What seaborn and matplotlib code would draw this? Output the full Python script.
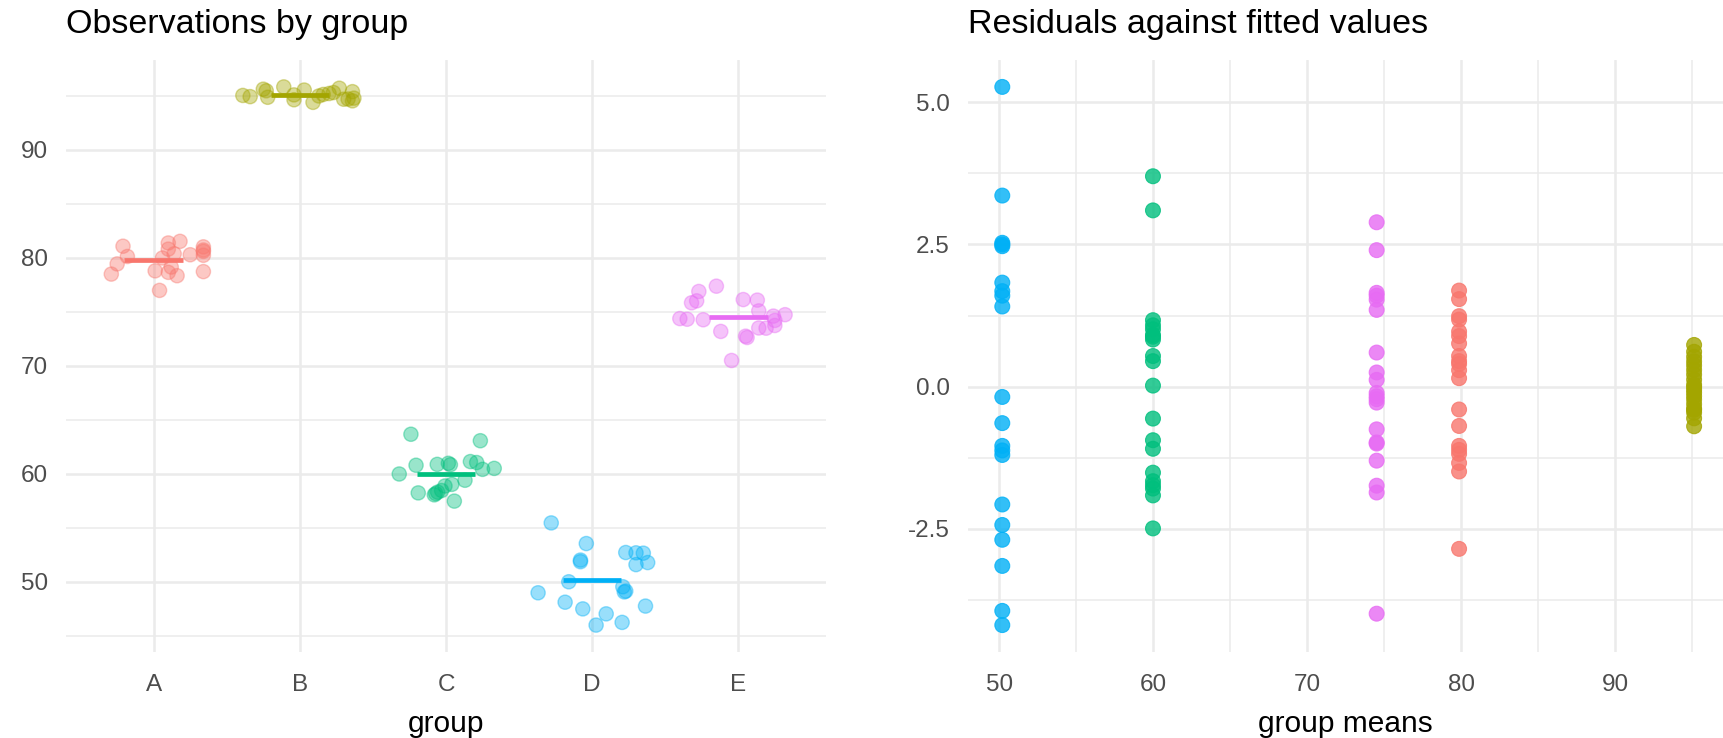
import numpy as np
import pandas as pd
import matplotlib
matplotlib.use("Agg")
import matplotlib.pyplot as plt
import seaborn as sns
from matplotlib.ticker import FixedLocator

# ---------------- data ----------------
groups = ["A", "B", "C", "D", "E"]
colors = ["#F8766D", "#A3A500", "#00BF7D", "#00B0F6", "#E76BF3"]

values_A = [81.54, 81.39, 81.09, 81.03, 80.82, 80.74, 80.61, 80.39, 80.30, 80.25,
            80.14, 80.00, 79.45, 79.16, 78.81, 78.74, 78.67, 78.51, 78.36, 77.00]
jitter_A = [0.18, 0.10, -0.21, 0.34, 0.10, 0.34, 0.34, 0.14, 0.25, 0.34,
            -0.18, 0.06, -0.25, 0.12, 0.01, 0.34, 0.10, -0.29, 0.16, 0.04]

values_B = [95.84, 95.72, 95.63, 95.55, 95.48, 95.40, 95.32, 95.23, 95.14, 95.10,
            95.05, 95.00, 94.94, 94.88, 94.80, 94.72, 94.70, 94.65, 94.55, 94.41]
jitter_B = [-0.11, 0.27, -0.25, 0.03, -0.23, 0.36, 0.23, 0.20, 0.16, -0.04,
            -0.39, 0.13, -0.34, -0.22, 0.37, 0.33, 0.30, -0.04, 0.36, 0.09]

values_C = [63.68, 63.08, 61.15, 61.06, 60.99, 60.89, 60.86, 60.81, 60.52, 60.43,
            60.00, 59.42, 59.04, 58.89, 58.47, 58.32, 58.25, 58.19, 58.07, 57.49]
jitter_C = [-0.24, 0.235, 0.167, 0.21, 0.016, -0.06, 0.03, -0.205, 0.33, 0.25,
            -0.32, 0.13, 0.04, -0.007, -0.03, -0.057, -0.19, -0.07, -0.08, 0.057]

values_D = [55.47, 53.56, 52.73, 52.70, 52.67, 52.03, 51.88, 51.80, 51.61, 50.02,
            49.56, 49.16, 49.08, 49.00, 48.13, 47.77, 47.51, 47.05, 46.26, 46.01]
jitter_D = [-0.28, -0.04, 0.23, 0.30, 0.35, -0.08, -0.08, 0.38, 0.30, -0.16,
            0.21, 0.23, 0.22, -0.37, -0.185, 0.365, -0.064, 0.096, 0.205, 0.027]

values_E = [77.39, 76.90, 76.15, 76.10, 76.03, 75.85, 75.10, 74.75, 74.62, 74.39,
            74.33, 74.28, 74.22, 73.75, 73.52, 73.50, 73.20, 72.76, 72.64, 70.51]
jitter_E = [-0.15, -0.27, 0.034, 0.13, -0.285, -0.32, 0.14, 0.32, 0.24, -0.40,
            -0.35, -0.24, 0.25, 0.25, 0.14, 0.19, -0.12, 0.05, 0.06, -0.046]

left_yticks = [50, 60, 70, 80, 90]
right_xticks = [50, 60, 70, 80, 90]
right_yticks = [-2.5, 0.0, 2.5, 5.0]

# ---------------- build frame ----------------
vals = [values_A, values_B, values_C, values_D, values_E]
jits = [jitter_A, jitter_B, jitter_C, jitter_D, jitter_E]
rows = []
for i, g in enumerate(groups):
    for v, j in zip(vals[i], jits[i]):
        rows.append({"group": g, "value": v, "jit": j})
df = pd.DataFrame(rows)
df["code"] = df["group"].map({g: i for i, g in enumerate(groups)})
df["xpos"] = df["code"] + df["jit"]
means = df.groupby("group")["value"].mean()
df["fitted"] = df["group"].map(means)
df["resid"] = df["value"] - df["fitted"]
palette = dict(zip(groups, colors))

# ---------------- styling ----------------
sns.set_theme(style="white")
plt.rcParams["font.family"] = ["Liberation Sans", "DejaVu Sans"]

W, H = 1723, 738
fig = plt.figure(figsize=(W / 100, H / 100), dpi=100)
fig.patch.set_facecolor("white")

pan_bottom, pan_top = 652, 60
ax1 = fig.add_axes([66 / W, (H - pan_bottom) / H, 760 / W, (pan_bottom - pan_top) / H])
ax2 = fig.add_axes([967.7 / W, (H - pan_bottom) / H, 761 / W, (pan_bottom - pan_top) / H])

GRID = "#EBEBEB"
TICKC = "#4D4D4D"
TICK_FS = 17.5
AX_FS = 21.5
TITLE_FS = 24.5


def style(ax):
    for s in ax.spines.values():
        s.set_visible(False)
    ax.set_facecolor("white")
    ax.set_axisbelow(True)
    ax.grid(which="major", color=GRID, lw=1.8)
    ax.grid(which="minor", color=GRID, lw=1.1)
    ax.tick_params(which="both", length=0, labelsize=TICK_FS, labelcolor=TICKC)
    ax.tick_params(axis="x", pad=16)
    ax.tick_params(axis="y", pad=13)


# ---------------- left panel ----------------
sns.scatterplot(data=df, x="xpos", y="value", hue="group", palette=palette,
                alpha=0.4, s=105, edgecolor="face", linewidth=1.0,
                legend=False, ax=ax1, zorder=3)
for i, g in enumerate(groups):
    ax1.hlines(means[g], i - 0.2, i + 0.2, color=palette[g], lw=3.4, zorder=4)

ax1.set_xlim(-0.6, len(groups) - 0.4)
ax1.set_xticks(range(len(groups)))
ax1.set_xticklabels(groups)
vmin, vmax = df["value"].min(), df["value"].max()
r = vmax - vmin
ax1.set_ylim(vmin - 0.05 * r, vmax + 0.05 * r)
ax1.yaxis.set_major_locator(FixedLocator(left_yticks))
ax1.yaxis.set_minor_locator(FixedLocator([45, 55, 65, 75, 85, 95]))
style(ax1)
ax1.grid(which="minor", axis="x", visible=False)
ax1.set_xlabel("group", fontsize=AX_FS, color="black")
ax1.set_ylabel("")
ax1.xaxis.set_label_coords(0.5, -72 / 592)
ax1.xaxis.label.set_va("center")

# ---------------- right panel ----------------
sns.scatterplot(data=df, x="fitted", y="resid", hue="group", palette=palette,
                alpha=0.8, s=115, edgecolor="face", linewidth=0.8,
                legend=False, ax=ax2, zorder=3)
fmin, fmax = df["fitted"].min(), df["fitted"].max()
fr = fmax - fmin
ax2.set_xlim(fmin - 0.05 * fr, fmax + 0.05 * fr)
rmin, rmax = df["resid"].min(), df["resid"].max()
rr = rmax - rmin
ax2.set_ylim(rmin - 0.05 * rr, rmax + 0.05 * rr)
ax2.xaxis.set_major_locator(FixedLocator(right_xticks))
ax2.xaxis.set_minor_locator(FixedLocator([45, 55, 65, 75, 85, 95]))
ax2.yaxis.set_major_locator(FixedLocator(right_yticks))
ax2.yaxis.set_minor_locator(FixedLocator([-3.75, -1.25, 1.25, 3.75]))
ax2.set_yticklabels([f"{t:.1f}" for t in right_yticks])
style(ax2)
ax2.set_xlabel("group means", fontsize=AX_FS, color="black")
ax2.set_ylabel("")
ax2.xaxis.set_label_coords((1723 - 967.7) / 2 / 761, -72 / 592)
ax2.xaxis.label.set_va("center")

# ---------------- titles ----------------
fig.text(66 / W, 1 - 33 / H, "Observations by group", fontsize=TITLE_FS,
         ha="left", va="baseline", color="black")
fig.text(967.7 / W, 1 - 33 / H, "Residuals against fitted values", fontsize=TITLE_FS,
         ha="left", va="baseline", color="black")

fig.savefig("out.png", dpi=100, facecolor="white")
